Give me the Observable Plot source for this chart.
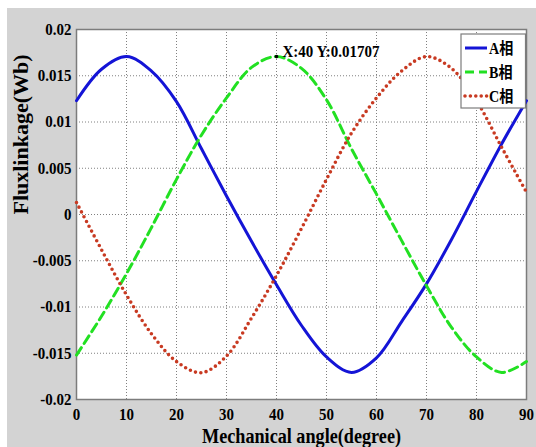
<!DOCTYPE html>
<html>
<head>
<meta charset="utf-8">
<script src="https://cdn.jsdelivr.net/npm/d3@7"></script>
<script src="https://cdn.jsdelivr.net/npm/@observablehq/plot@0.6"></script>
<style>
  html, body { margin: 0; padding: 0; background: #ffffff; }
  #wrap { position: relative; width: 536px; height: 447px; background: #ffffff; overflow: hidden; }
  #bg { position: absolute; left: 7px; top: 8px; right: 0; bottom: 0; background: #d3d3d3; }
  #chart { position: absolute; left: 0; top: 0; }
</style>
</head>
<body>
<div id="wrap"><div id="bg"></div><div id="chart"></div></div>
<script>
// ---- data ----
const angle = [0, 5, 10, 15, 20, 25, 30, 35, 40, 45, 50, 55, 60, 65, 70, 75, 80, 85, 90];
const fluxA = [0.0123, 0.0157, 0.01707, 0.0155, 0.0122, 0.0071, 0.0020, -0.0029, -0.0076, -0.0120, -0.0154, -0.01707, -0.0155, -0.0116, -0.0075, -0.0027, 0.0025, 0.0076, 0.0123];
const fluxB = [-0.0152, -0.0110, -0.0064, -0.0014, 0.0038, 0.0086, 0.0126, 0.0159, 0.01707, 0.0158, 0.0124, 0.0071, 0.0022, -0.0028, -0.0077, -0.0122, -0.0154, -0.01707, -0.0159];
const fluxC = [0.0013, -0.0038, -0.0087, -0.0129, -0.0159, -0.0171, -0.0153, -0.0112, -0.0066, -0.0015, 0.0038, 0.0088, 0.0126, 0.0155, 0.01707, 0.0158, 0.0123, 0.0073, 0.0024];
const seriesNames = ["A相", "B相", "C相"];
const seriesColors = ["#1414d6", "#22e022", "#c83a22"];
const xTicks = [0, 10, 20, 30, 40, 50, 60, 70, 80, 90];
const yTicks = [-0.02, -0.015, -0.01, -0.005, 0, 0.005, 0.01, 0.015, 0.02];
const tipX = 40, tipY = 0.01707;
const xLabel = "Mechanical angle(degree)";
const yLabel = "Fluxlinkage(Wb)";

const toTable = (vals) => angle.map((x, i) => ({x, y: vals[i]}));
const tA = toTable(fluxA), tB = toTable(fluxB), tC = toTable(fluxC);

const serif = "'Liberation Serif', 'Times New Roman', 'Noto Sans CJK SC', serif";

const chart = Plot.plot({
  width: 536,
  height: 447,
  marginLeft: 76,
  marginRight: 10,
  marginTop: 29,
  marginBottom: 48,
  style: {background: "transparent", fontFamily: serif, fontWeight: "bold", color: "#000", overflow: "visible"},
  x: {domain: [0, 90]},
  y: {domain: [-0.02, 0.02]},
  marks: [
    Plot.frame({fill: "white"}),
    Plot.gridX(xTicks, {stroke: "#808080", strokeOpacity: 1, strokeDasharray: "1,2"}),
    Plot.gridY(yTicks, {stroke: "#808080", strokeOpacity: 1, strokeDasharray: "1,2"}),
    Plot.frame({stroke: "#7c7c7c", strokeWidth: 1.5}),
    Plot.line(tA, {x: "x", y: "y", stroke: seriesColors[0], strokeWidth: 3, curve: "catmull-rom"}),
    Plot.line(tB, {x: "x", y: "y", stroke: seriesColors[1], strokeWidth: 3, strokeDasharray: "9,5", curve: "catmull-rom"}),
    Plot.line(tC, {x: "x", y: "y", stroke: seriesColors[2], strokeWidth: 3.6, strokeDasharray: "0,5.4", strokeLinecap: "round", curve: "catmull-rom"}),
    Plot.dot([{x: tipX, y: tipY}], {x: "x", y: "y", r: 1.8, fill: "#000"}),
    Plot.text([{x: tipX, y: tipY}], {x: "x", y: "y", text: d => `X:${d.x} Y:${d.y}`, dx: 6, dy: 0, textAnchor: "start", lineAnchor: "bottom", fontSize: 17, fill: "#000"}),
    Plot.axisX(xTicks, {tickSize: 0, tickPadding: 8, fontSize: 17, label: null, fill: "#000"}),
    Plot.axisY(yTicks, {tickSize: 0, tickPadding: 5, fontSize: 17, label: null, fill: "#000", tickFormat: d => d === 0 ? "0" : String(+d.toFixed(3))}),
    Plot.text([xLabel], {frameAnchor: "bottom", dy: 37, fontSize: 20, lineAnchor: "middle", fill: "#000"}),
    Plot.text([yLabel], {frameAnchor: "left", dx: -55, rotate: -90, fontSize: 21, lineAnchor: "middle", fill: "#000"})
  ]
});

document.getElementById("chart").appendChild(chart);

// legend (top-right inside the axes)
const svg = d3.select(chart);
const lg = svg.append("g").attr("font-family", serif).attr("font-weight", "bold")
  .attr("font-size", 16).attr("text-anchor", "start");
lg.append("rect").attr("x", 461).attr("y", 34).attr("width", 64.5).attr("height", 74)
  .attr("fill", "white").attr("stroke", "#7c7c7c").attr("stroke-width", 1.2);
const dashes = [null, "9,5", "0,5.4"];
const widths = [3, 3, 3.6];
seriesNames.forEach((name, i) => {
  const yy = 48 + i * 24;
  lg.append("line").attr("x1", 465).attr("x2", 487).attr("y1", yy).attr("y2", yy)
    .attr("stroke", seriesColors[i]).attr("stroke-width", widths[i])
    .attr("stroke-dasharray", dashes[i]).attr("stroke-linecap", i === 2 ? "round" : "butt");
  lg.append("text").attr("x", 489).attr("y", yy + 6).attr("fill", "#000")
    .attr("text-anchor", "start").text(name);
});

// condense text horizontally like the reference
chart.querySelectorAll("text").forEach(t => {
  const content = t.textContent;
  const len = t.getComputedTextLength();
  if (!len) return;
  let target = len * 0.88;
  if (content === xLabel) target = 199;
  if (content === yLabel) target = 160;
  t.setAttribute("textLength", target);
  t.setAttribute("lengthAdjust", "spacingAndGlyphs");
});
</script>
</body>
</html>
